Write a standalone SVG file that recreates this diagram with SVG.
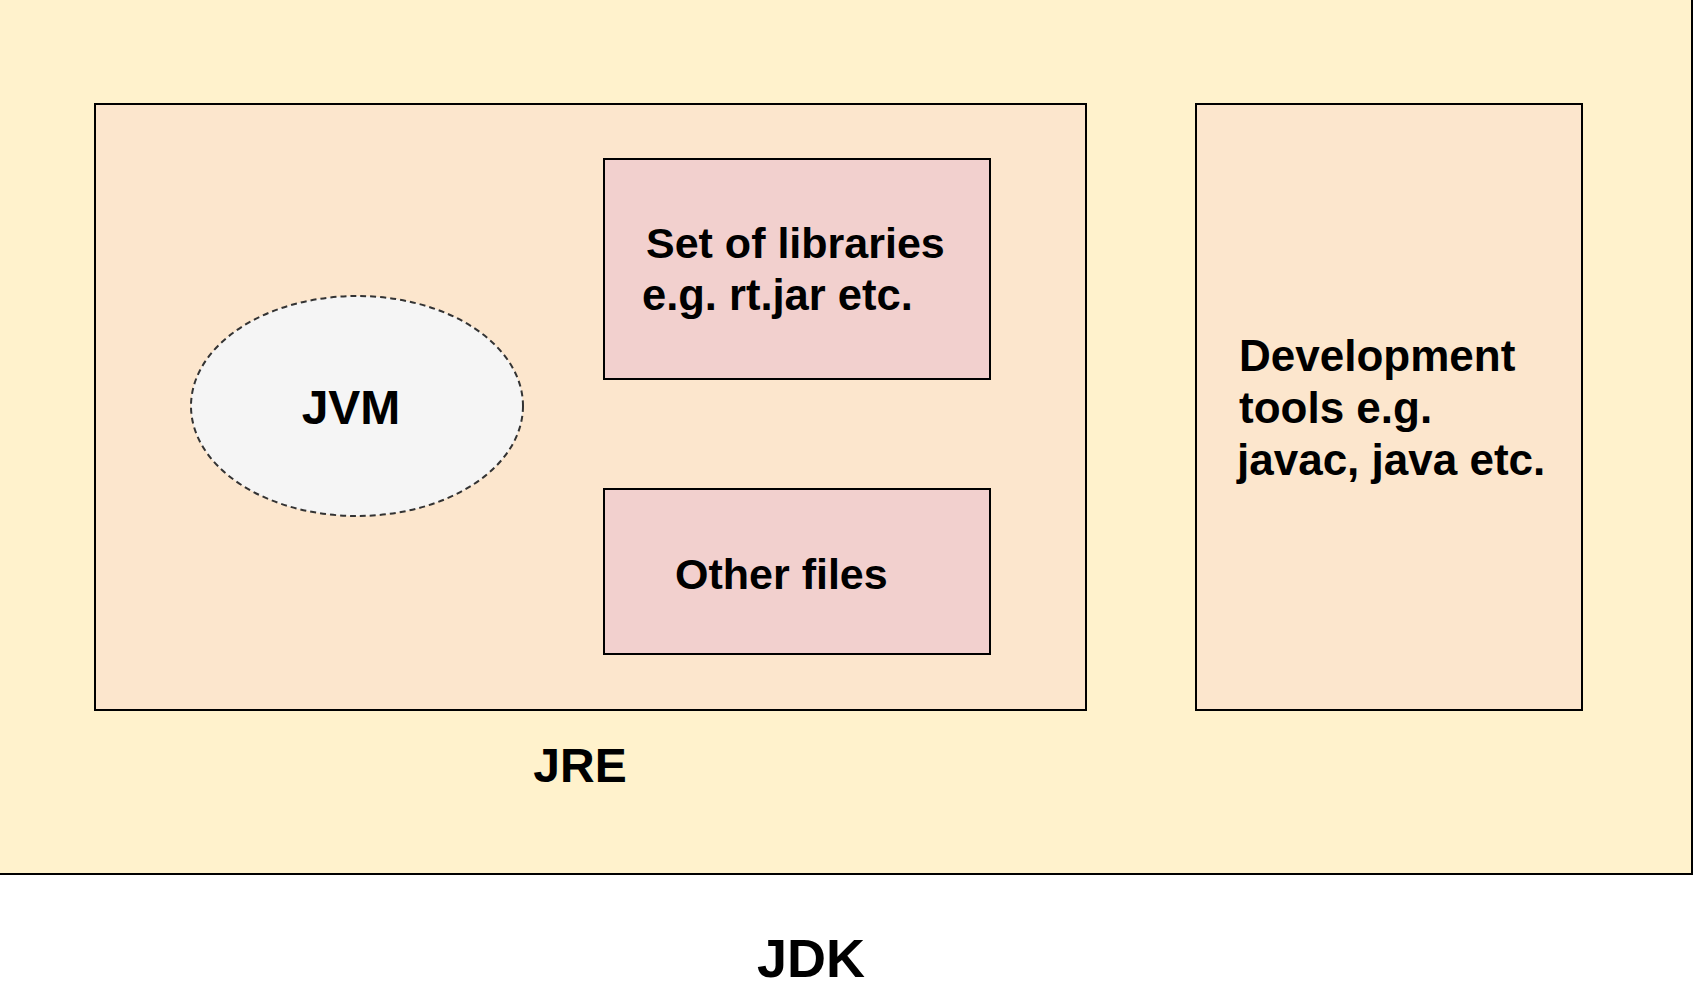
<svg xmlns="http://www.w3.org/2000/svg" width="1694" height="1000" viewBox="0 0 1694 1000">
<style>
.box{stroke:#000;stroke-width:2}
.t{font-family:"Liberation Sans",Arial,Helvetica,sans-serif;font-weight:bold;fill:#000}
</style>
<rect x="0" y="0" width="1694" height="1000" fill="#ffffff"/>
<g id="jdk">
<rect class="box" x="-10" y="-10" width="1702" height="884" fill="#fff2cc"/>
<text class="t" x="811" y="977" font-size="54" text-anchor="middle">JDK</text>
</g>
<g id="jre">
<rect class="box" x="95" y="104" width="991" height="606" fill="#fce6cd"/>
<text class="t" x="580" y="782" font-size="48" text-anchor="middle">JRE</text>
</g>
<g id="jvm">
<ellipse cx="357" cy="406" rx="166" ry="110" fill="#f5f5f5" stroke="#333" stroke-width="2" stroke-dasharray="6 4"/>
<text class="t" x="351" y="424" font-size="48" text-anchor="middle">JVM</text>
</g>
<g id="libraries">
<rect class="box" x="604" y="159" width="386" height="220" fill="#f2d0ce"/>
<text class="t" x="646" y="258" font-size="43">Set of libraries</text>
<text class="t" x="642" y="310" font-size="43.5">e.g. rt.jar etc.</text>
</g>
<g id="other">
<rect class="box" x="604" y="489" width="386" height="165" fill="#f2d0ce"/>
<text class="t" x="675" y="589" font-size="43">Other files</text>
</g>
<g id="devtools">
<rect class="box" x="1196" y="104" width="386" height="606" fill="#fce6cd"/>
<text class="t" x="1239" y="371" font-size="44">Development</text>
<text class="t" x="1239" y="423" font-size="44">tools e.g.</text>
<text class="t" x="1237" y="475" font-size="44">javac, java etc.</text>
</g>
<g id="connectors"/>
</svg>
